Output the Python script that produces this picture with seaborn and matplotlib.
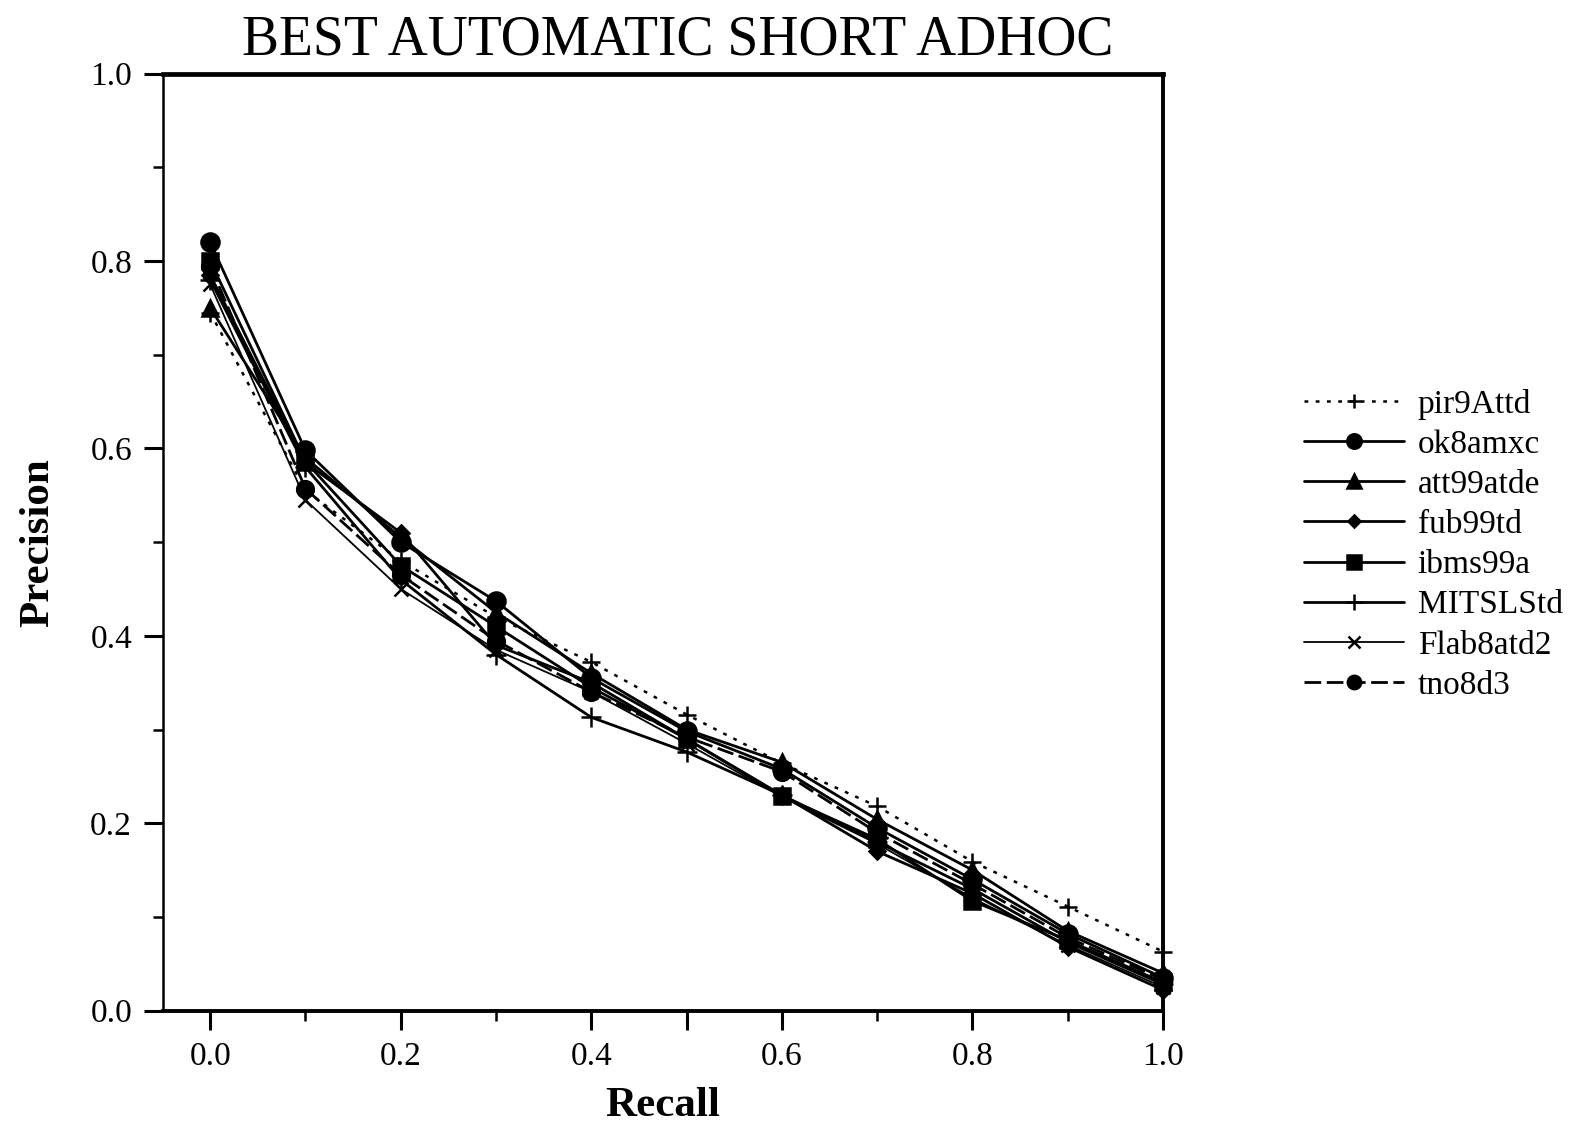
# precision / recall curves for the best automatic short adhoc runs

import matplotlib
matplotlib.use('Agg')
import matplotlib.pyplot as plt
import seaborn as sns

# recall levels and precision for each run
recall = [0.0, 0.1, 0.2, 0.3, 0.4, 0.5, 0.6, 0.7, 0.8, 0.9, 1.0]
pir9Attd = [0.745, 0.555, 0.48, 0.42, 0.372, 0.316, 0.264, 0.218, 0.159, 0.111, 0.063]
ok8amxc = [0.82, 0.598, 0.50, 0.437, 0.355, 0.298, 0.258, 0.195, 0.14, 0.082, 0.035]
att99atde = [0.75, 0.59, 0.505, 0.425, 0.36, 0.30, 0.265, 0.204, 0.15, 0.085, 0.04]
fub99td = [0.785, 0.585, 0.51, 0.39, 0.35, 0.29, 0.23, 0.17, 0.125, 0.068, 0.022]
ibms99a = [0.80, 0.586, 0.475, 0.41, 0.345, 0.29, 0.229, 0.183, 0.117, 0.075, 0.03]
MITSLStd = [0.78, 0.58, 0.46, 0.38, 0.313, 0.276, 0.23, 0.18, 0.13, 0.073, 0.028]
Flab8atd2 = [0.775, 0.545, 0.45, 0.385, 0.34, 0.285, 0.228, 0.178, 0.12, 0.07, 0.025]
tno8d3 = [0.795, 0.557, 0.465, 0.395, 0.34, 0.292, 0.255, 0.19, 0.135, 0.078, 0.033]

runs = ['pir9Attd', 'ok8amxc', 'att99atde', 'fub99td', 'ibms99a',
        'MITSLStd', 'Flab8atd2', 'tno8d3']
values = [pir9Attd, ok8amxc, att99atde, fub99td, ibms99a,
          MITSLStd, Flab8atd2, tno8d3]

# line style for each run: (marker, markersize, linestyle, linewidth)
styles = {
    'pir9Attd': ('+', 13, (0, (1.5, 3)), 1.8),
    'ok8amxc': ('o', 13, '-', 2.0),
    'att99atde': ('^', 12, '-', 2.0),
    'fub99td': ('D', 8, '-', 2.0),
    'ibms99a': ('s', 12, '-', 2.0),
    'MITSLStd': ('+', 14, '-', 2.0),
    'Flab8atd2': ('x', 10, '-', 1.3),
    'tno8d3': ('o', 12, (0, (6, 2)), 2.0),
}

sns.set_style('ticks')
plt.rcParams['font.family'] = ['Liberation Serif', 'DejaVu Serif']
plt.rcParams['text.color'] = 'black'
plt.rcParams['axes.labelcolor'] = 'black'
plt.rcParams['xtick.color'] = 'black'
plt.rcParams['ytick.color'] = 'black'

fig, ax = plt.subplots(figsize=(15.83, 11.23), dpi=100)
fig.subplots_adjust(left=0.1027, right=0.7347, top=0.9344, bottom=0.1001)

for name, vals in zip(runs, values):
    marker, ms, ls, lw = styles[name]
    sns.lineplot(x=recall, y=vals, ax=ax, color='black', marker=marker,
                 markersize=ms, markeredgewidth=1.8, markeredgecolor='black',
                 linestyle=ls, linewidth=lw, label=name, clip_on=False)

ax.set_xlim(-0.05, 1.0)
ax.set_ylim(0, 1.0)

# axis ticks
ax.set_xticks([0.0, 0.2, 0.4, 0.5, 0.6, 0.8, 1.0])
ax.set_xticklabels(['0.0', '0.2', '0.4', '', '0.6', '0.8', '1.0'])
ax.set_xticks([0.1, 0.3, 0.7, 0.9], minor=True)
ax.set_yticks([0.0, 0.2, 0.4, 0.6, 0.8, 1.0])
ax.set_yticklabels(['0.0', '0.2', '0.4', '0.6', '0.8', '1.0'])
ax.set_yticks([0.1, 0.3, 0.5, 0.7, 0.9], minor=True)
ax.tick_params(axis='both', which='major', direction='out', length=14,
               width=2.2, labelsize=24, labelcolor='black')
ax.tick_params(axis='both', which='minor', direction='out', length=7,
               width=1.8)
ax.tick_params(axis='y', which='major', pad=8)
ax.tick_params(axis='x', which='major', pad=8)

for side, w in [('top', 3.4), ('right', 2.8), ('left', 1.8), ('bottom', 2.8)]:
    ax.spines[side].set_visible(True)
    ax.spines[side].set_linewidth(w)
    ax.spines[side].set_color('black')

ax.set_title('BEST AUTOMATIC SHORT ADHOC', fontsize=40, pad=14, x=0.515,
             color='black')
ax.set_xlabel('Recall', fontsize=31, fontweight='bold', labelpad=11)
ax.set_ylabel('Precision', fontsize=31, fontweight='bold', labelpad=24)

ax.legend_.remove()
handles, labels = ax.get_legend_handles_labels()
fig.legend(handles, labels, loc='center left', bbox_to_anchor=(0.805, 0.515),
           frameon=False, fontsize=24, handlelength=3.0, handletextpad=0.4,
           labelspacing=0.29, markerscale=0.8)

plt.savefig('out.png', dpi=100)
